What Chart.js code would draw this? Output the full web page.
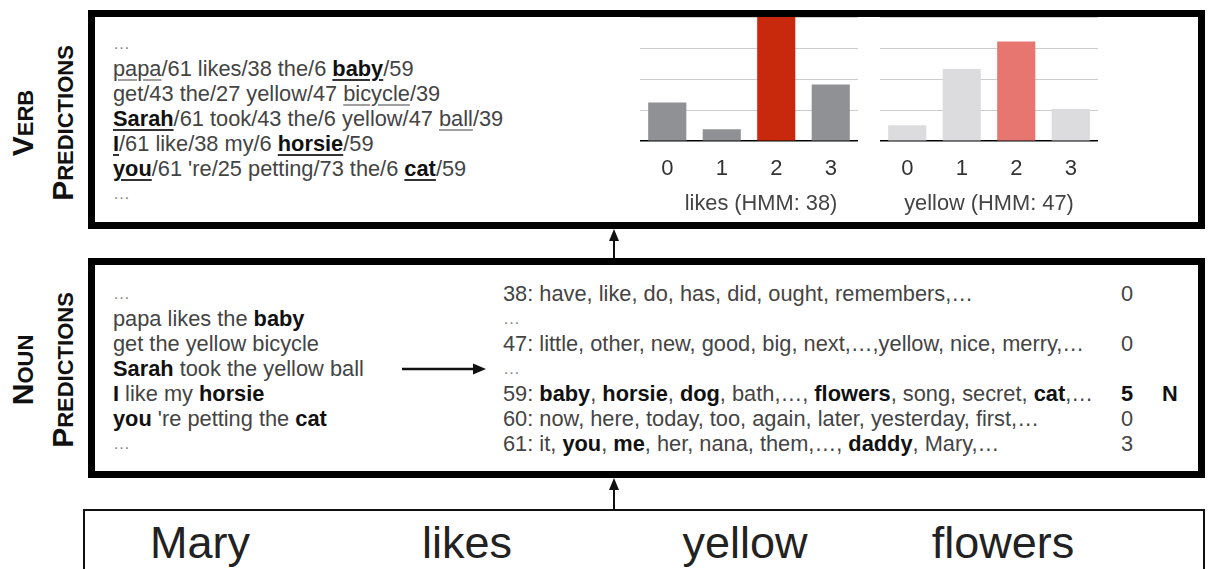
<!DOCTYPE html>
<html><head><meta charset="utf-8">
<script src="https://cdn.jsdelivr.net/npm/chart.js@4.4.0/dist/chart.umd.min.js"></script>
<style>
html,body{margin:0;padding:0;background:#fff;}
#root{position:relative;width:1209px;height:569px;overflow:hidden;font-family:"Liberation Sans",Arial,Helvetica,sans-serif;}
.box{position:absolute;box-sizing:border-box;}
.txt{position:absolute;font-size:21.8px;line-height:25px;color:#444;white-space:nowrap;}
.txt b{color:#111;font-weight:bold;}
.dots{color:#888;font-size:17px;}
.ug{text-decoration:underline;text-decoration-color:#a0a0a0;text-decoration-thickness:2px;text-underline-offset:3px;}
.ub{text-decoration:underline;text-decoration-color:#333;text-decoration-thickness:2px;text-underline-offset:3px;}
.lab{position:absolute;width:220px;height:80px;transform:rotate(-90deg);text-align:center;font-weight:bold;color:#111;font-size:30px;}
.lab div{height:40px;line-height:40px;}
.lab span{font-size:22px;line-height:1;}
.word{position:absolute;top:520px;font-size:45px;line-height:45px;color:#222;transform:translateX(-50%);white-space:nowrap;}
.ctitle{position:absolute;top:190px;font-size:21.8px;line-height:25px;color:#444;transform:translateX(-50%);white-space:nowrap;}
canvas{position:absolute;}
</style>
</head><body>
<div id="root">
  <div class="box" style="left:88px;top:10px;width:1117px;height:219px;border:7px solid #000;"></div>
  <div class="box" style="left:88px;top:258px;width:1117px;height:220px;border:7px solid #000;"></div>
  <div class="box" style="left:83px;top:509px;width:1122px;height:90px;border:2px solid #111;"></div>

  <div class="lab" style="left:-67px;top:83px;"><div>V<span>ERB</span></div><div>P<span>REDICTIONS</span></div></div>
  <div class="lab" style="left:-67px;top:330px;"><div>N<span>OUN</span></div><div>P<span>REDICTIONS</span></div></div>

  <div class="txt" style="left:113px;top:31px;">
    <div class="dots">…</div>
    <div><span class="ug">papa</span>/61 likes/38 the/6 <b class="ub">baby</b>/59</div>
    <div>get/43 the/27 yellow/47 <span class="ug">bicycle</span>/39</div>
    <div><b class="ub">Sarah</b>/61 took/43 the/6 yellow/47 <span class="ug">ball</span>/39</div>
    <div><b class="ub">I</b>/61 like/38 my/6 <b class="ub">horsie</b>/59</div>
    <div><b class="ub">you</b>/61 're/25 petting/73 the/6 <b class="ub">cat</b>/59</div>
    <div class="dots">…</div>
  </div>

  <div class="txt" style="left:113px;top:281px;">
    <div class="dots">…</div>
    <div>papa likes the <b>baby</b></div>
    <div>get the yellow bicycle</div>
    <div><b>Sarah</b> took the yellow ball</div>
    <div><b>I</b> like my <b>horsie</b></div>
    <div><b>you</b> 're petting the <b>cat</b></div>
    <div class="dots">…</div>
  </div>

  <div class="txt" style="left:503px;top:281px;">
    <div>38: have, like, do, has, did, ought, remembers,…</div>
    <div class="dots">…</div>
    <div>47: little, other, new, good, big, next,…,yellow, nice, merry,…</div>
    <div class="dots">…</div>
    <div>59: <b>baby</b>, <b>horsie</b>, <b>dog</b>, bath,…, <b>flowers</b>, song, secret, <b>cat</b>,…</div>
    <div>60: now, here, today, too, again, later, yesterday, first,…</div>
    <div>61: it, <b>you</b>, <b>me</b>, her, nana, them,…, <b>daddy</b>, Mary,…</div>
  </div>
  <div class="txt" style="left:1121px;top:281px;">
    <div>0</div><div>&nbsp;</div><div>0</div><div>&nbsp;</div><div><b>5</b></div><div>0</div><div>3</div>
  </div>
  <div class="txt" style="left:1162px;top:381px;"><b>N</b></div>

  <canvas id="c1" width="218" height="174" style="left:640px;top:17px;"></canvas>
  <canvas id="c2" width="218" height="174" style="left:880px;top:17px;"></canvas>
  <div class="ctitle" style="left:761px;">likes (HMM: 38)</div>
  <div class="ctitle" style="left:989px;">yellow (HMM: 47)</div>

  <div class="word" style="left:200px;">Mary</div>
  <div class="word" style="left:467px;">likes</div>
  <div class="word" style="left:745px;">yellow</div>
  <div class="word" style="left:1003px;">flowers</div>

  <svg width="1209" height="569" style="position:absolute;left:0;top:0;pointer-events:none;">
    <line x1="614" y1="258" x2="614" y2="239" stroke="#111" stroke-width="2"/>
    <polygon points="614,229 609,241 619,241" fill="#111"/>
    <line x1="614" y1="509" x2="614" y2="489" stroke="#111" stroke-width="2"/>
    <polygon points="614,478 609,490 619,490" fill="#111"/>
    <line x1="402" y1="369" x2="474" y2="369" stroke="#111" stroke-width="2.5"/>
    <polygon points="486,369 473,363.5 473,374.5" fill="#111"/>
  </svg>
</div>
<script>
const categories = ['0', '1', '2', '3'];
const likesValues = [1.24, 0.38, 4.0, 1.82];
const yellowValues = [0.51, 2.32, 3.21, 1.03];
const yMax = 4;

const likesColors = ['#8f9195', '#8f9195', '#c8280b', '#8f9195'];
const yellowColors = ['#dcdcde', '#dcdcde', '#e87670', '#dcdcde'];

function makeChart(id, values, colors) {
  new Chart(document.getElementById(id), {
    type: 'bar',
    data: {
      labels: categories,
      datasets: [{ data: values, backgroundColor: colors, borderWidth: 0,
                   barPercentage: 0.7, categoryPercentage: 1 }]
    },
    options: {
      responsive: false, animation: false, devicePixelRatio: 1,
      layout: { padding: 0 },
      plugins: { legend: { display: false }, tooltip: { enabled: false } },
      scales: {
        x: {
          grid: { display: false, drawTicks: false },
          border: { display: true, color: '#000', width: 1.5 },
          ticks: { color: '#333', font: { size: 22, family: 'Liberation Sans' }, padding: 15 },
          afterFit(s) { s.height = 50; }
        },
        y: {
          min: 0, max: yMax,
          ticks: { display: false, stepSize: 1 },
          grid: { drawTicks: false, lineWidth: 1,
                  color: ctx => (ctx.tick && ctx.tick.value === 0) ? 'rgba(0,0,0,0)' : '#cdcdcd' },
          border: { display: false },
          afterFit(s) { s.width = 0; }
        }
      }
    }
  });
}
makeChart('c1', likesValues, likesColors);
makeChart('c2', yellowValues, yellowColors);
</script>
</body></html>
